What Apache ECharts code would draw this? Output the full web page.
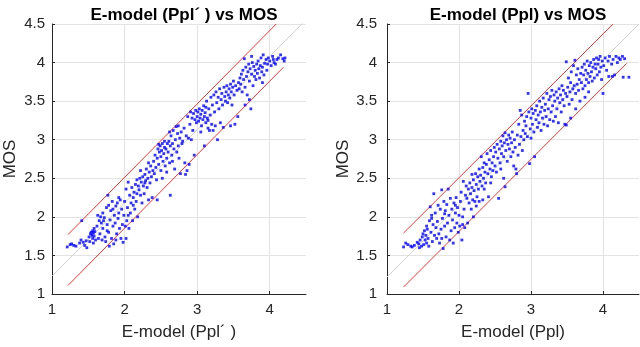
<!DOCTYPE html>
<html><head><meta charset="utf-8">
<script src="https://cdn.jsdelivr.net/npm/echarts@6/dist/echarts.min.js"></script>
<style>html,body{margin:0;padding:0;background:#fff}#c{width:640px;height:347px}</style>
</head><body><div id="c"></div>
<script>
var titles = ['E-model (Ppl\u00b4 ) vs MOS', 'E-model (Ppl) vs MOS'];
var xNames = ['E-model (Ppl\u00b4 )', 'E-model (Ppl)'];
var yName = 'MOS';
var xTicks = [1, 2, 3, 4];
var yTicks = [1, 1.5, 2, 2.5, 3, 3.5, 4, 4.5];

var pointsLeft = [
[1.21,1.61],[1.25,1.64],[1.27,1.65],[1.30,1.63],[1.33,1.62],[1.38,1.66],[1.40,1.70],[1.43,1.67],[1.45,1.63],[1.48,1.60],[1.41,1.95],[1.47,1.69],
[1.51,1.74],[1.53,1.78],[1.54,1.80],[1.55,1.76],[1.56,1.82],[1.56,1.72],[1.57,1.79],[1.58,1.85],[1.58,1.75],[1.59,1.81],[1.60,1.70],[1.52,1.68],[1.57,1.66],
[1.62,1.88],[1.63,2.02],[1.65,1.95],[1.66,1.78],[1.68,1.92],[1.70,1.85],[1.70,2.05],[1.72,1.99],[1.73,1.74],[1.74,1.68],[1.75,2.12],[1.76,1.90],[1.77,2.28],[1.78,1.80],[1.78,2.15],[1.79,1.62],[1.64,1.72],[1.69,1.70],[1.71,1.95],[1.67,2.00],[1.76,1.82],
[1.80,1.96],[1.81,2.08],[1.82,1.72],[1.83,2.20],[1.84,1.88],[1.85,1.65],[1.86,2.02],[1.87,1.92],[1.88,2.14],[1.89,1.78],[1.90,2.18],[1.91,1.98],[1.92,2.05],[1.93,1.85],[1.94,2.22],[1.95,1.72],[1.96,2.10],[1.97,1.90],[1.98,1.67],[1.99,2.02],[1.84,2.10],[1.88,1.70],[1.92,2.25],
[2.00,2.20],[2.01,1.88],[2.02,2.36],[2.03,1.95],[2.04,2.12],[2.05,2.45],[2.06,1.85],[2.07,2.28],[2.08,2.05],[2.09,2.18],[2.10,2.38],[2.11,1.95],[2.12,2.25],[2.13,2.32],[2.14,2.10],[2.15,2.42],[2.16,2.20],[2.17,2.30],[2.18,2.00],[2.19,2.40],[2.02,1.72],[2.05,2.02],[2.12,2.15],[2.17,2.48],
[2.20,2.35],[2.21,2.50],[2.22,2.28],[2.23,2.45],[2.24,2.18],[2.25,2.52],[2.26,2.40],[2.27,2.30],[2.28,2.55],[2.29,2.47],[2.30,2.62],[2.31,2.38],[2.32,2.50],[2.33,2.22],[2.34,2.58],[2.35,2.44],[2.36,2.66],[2.37,2.52],[2.38,2.25],[2.39,2.60],[2.28,2.44],[2.33,2.70],[2.22,2.60],
[2.40,2.72],[2.41,2.56],[2.42,2.80],[2.43,2.64],[2.44,2.48],[2.45,2.76],[2.46,2.88],[2.47,2.68],[2.48,2.84],[2.49,2.92],[2.50,2.78],[2.50,2.60],[2.51,2.86],[2.52,2.95],[2.53,2.72],[2.54,2.82],[2.55,2.90],[2.56,2.66],[2.57,2.88],[2.58,2.76],[2.59,2.95],[2.45,2.22],[2.52,2.50],[2.58,2.58],[2.47,2.94],[2.55,2.98],
[2.60,2.84],[2.61,2.98],[2.62,2.70],[2.63,2.92],[2.64,3.05],[2.65,2.80],[2.66,2.95],[2.67,3.12],[2.68,2.88],[2.69,2.62],[2.70,3.00],[2.71,3.17],[2.72,2.84],[2.73,3.08],[2.74,2.92],[2.75,2.76],[2.76,3.02],[2.77,2.56],[2.78,3.10],[2.79,2.95],[2.63,2.28],[2.66,2.72],[2.74,3.18],[2.62,3.10],
[2.80,2.98],[2.82,3.15],[2.84,2.55],[2.85,3.05],[2.86,2.60],[2.87,3.30],[2.88,3.02],[2.89,2.68],[2.90,3.20],[2.91,3.36],[2.92,3.00],[2.93,3.28],[2.94,3.12],[2.95,3.34],[2.96,2.80],[2.97,3.26],[2.98,3.38],[2.99,3.22],[2.83,2.70],
[3.00,3.30],[3.01,3.36],[3.02,3.24],[3.03,3.40],[3.04,3.28],[3.05,3.33],[3.06,3.18],[3.07,3.38],[3.08,3.26],[3.09,3.44],[3.10,3.30],[3.11,3.35],[3.12,3.22],[3.13,3.50],[3.14,3.28],[3.15,3.15],[3.16,3.40],[3.17,3.12],[3.18,3.32],[3.19,3.55],[3.10,2.92],[3.05,3.10],[3.15,3.25],[3.12,3.42],
[3.20,3.20],[3.21,3.45],[3.22,3.12],[3.23,3.58],[3.24,3.36],[3.25,3.18],[3.26,3.62],[3.27,3.48],[3.28,3.00],[3.29,3.55],[3.30,3.40],[3.31,3.66],[3.32,3.22],[3.33,3.52],[3.34,3.60],[3.35,3.45],[3.36,3.16],[3.37,3.68],[3.38,3.56],[3.39,3.50],
[3.40,3.62],[3.41,3.70],[3.42,3.48],[3.43,3.58],[3.44,3.66],[3.45,3.54],[3.46,3.72],[3.47,3.62],[3.48,3.45],[3.49,3.68],[3.50,3.76],[3.51,3.58],[3.52,3.20],[3.53,3.70],[3.55,3.64],[3.56,3.30],[3.57,3.74],[3.58,3.66],[3.59,3.80],[3.46,3.18],
[3.60,3.72],[3.61,3.85],[3.62,3.62],[3.63,3.90],[3.64,3.78],[3.65,4.05],[3.66,3.68],[3.67,3.94],[3.68,3.82],[3.69,3.58],[3.70,3.88],[3.71,3.98],[3.72,3.76],[3.73,3.92],[3.74,3.40],[3.75,3.85],[3.76,4.00],[3.77,3.70],[3.78,3.95],[3.79,3.82],[3.72,3.52],[3.66,3.45],[3.75,4.08],
[3.80,3.90],[3.81,3.78],[3.82,3.98],[3.83,3.86],[3.84,4.02],[3.85,3.92],[3.86,3.80],[3.87,3.96],[3.88,4.06],[3.89,3.88],[3.90,3.94],[3.91,4.10],[3.92,3.84],[3.93,3.99],[3.95,4.04],[3.96,3.90],[3.97,3.98],[3.98,4.06],[3.90,3.74],
[4.00,4.02],[4.02,3.96],[4.04,4.08],[4.06,4.00],[4.08,3.98],[4.10,4.04],[4.12,4.06],[4.15,4.10],[4.18,4.05],[4.20,4.02],[4.21,4.06],[4.05,4.04]
];

var pointsRight = [
[1.23,1.61],[1.26,1.66],[1.29,1.64],[1.33,1.62],[1.35,1.61],[1.38,1.63],[1.42,1.67],[1.44,1.65],[1.46,1.70],[1.48,1.62],[1.45,1.60],[1.49,1.74],
[1.50,1.78],[1.51,1.64],[1.52,1.82],[1.53,1.70],[1.54,1.76],[1.55,1.66],[1.56,1.84],[1.57,1.72],[1.58,1.62],[1.59,1.95],[1.60,2.13],[1.61,1.80],[1.62,1.98],[1.63,1.68],[1.64,1.90],[1.65,2.30],[1.66,1.76],[1.67,2.05],[1.68,1.86],[1.69,1.72],[1.55,1.88],[1.62,2.02],
[1.70,1.94],[1.71,2.15],[1.72,1.78],[1.73,1.66],[1.74,2.10],[1.75,1.84],[1.76,2.35],[1.77,1.98],[1.78,1.59],[1.79,2.20],[1.80,1.88],[1.81,2.08],[1.82,1.74],[1.83,2.16],[1.84,1.92],[1.85,2.36],[1.86,2.02],[1.87,1.70],[1.88,2.24],[1.89,1.82],[1.76,1.72],[1.80,2.04],
[1.90,2.10],[1.91,1.96],[1.92,1.66],[1.93,2.18],[1.94,1.86],[1.95,2.05],[1.96,2.25],[1.97,1.92],[1.98,2.12],[1.99,1.80],[2.00,2.02],[2.01,1.88],[2.02,2.20],[2.03,2.32],[2.04,1.70],[2.05,1.90],[2.06,2.46],[2.07,2.10],[2.08,1.86],[2.09,2.28],[2.10,2.40],[1.95,2.15],[2.05,2.00],
[2.11,2.24],[2.12,1.92],[2.13,2.36],[2.14,2.18],[2.15,2.44],[2.16,2.30],[2.17,2.10],[2.18,2.38],[2.19,2.22],[2.20,2.48],[2.21,2.34],[2.22,2.20],[2.23,2.56],[2.24,2.42],[2.25,2.26],[2.26,2.52],[2.27,2.36],[2.28,2.62],[2.29,2.46],[2.20,2.00],[2.18,2.55],[2.24,2.14],[2.28,2.20],
[2.30,2.54],[2.31,2.78],[2.32,2.40],[2.33,2.64],[2.34,2.50],[2.35,2.70],[2.36,2.58],[2.37,2.44],[2.38,2.68],[2.39,2.82],[2.40,2.56],[2.41,2.26],[2.42,2.74],[2.43,2.62],[2.44,2.86],[2.45,2.52],[2.46,2.70],[2.47,2.60],[2.48,2.78],[2.49,2.90],[2.35,2.36],[2.44,2.44],[2.33,2.22],
[2.50,2.66],[2.51,2.84],[2.52,2.58],[2.53,2.94],[2.54,2.76],[2.55,2.24],[2.56,2.88],[2.57,2.70],[2.58,2.98],[2.59,2.82],[2.60,2.92],[2.61,3.05],[2.62,2.78],[2.63,2.96],[2.64,3.09],[2.64,2.39],[2.65,2.86],[2.66,3.00],[2.67,2.72],[2.68,2.94],[2.69,3.06],[2.58,2.62],[2.62,2.50],
[2.70,2.88],[2.71,3.02],[2.72,2.78],[2.73,2.96],[2.74,3.10],[2.75,2.84],[2.76,2.66],[2.77,3.00],[2.78,2.90],[2.80,2.56],[2.81,3.06],[2.82,2.80],[2.83,3.20],[2.84,2.94],[2.85,3.38],[2.86,3.04],[2.87,3.32],[2.88,2.86],[2.89,3.12],[2.79,2.62],
[2.90,3.00],[2.91,3.24],[2.92,3.08],[2.93,3.18],[2.94,3.30],[2.95,3.04],[2.96,3.60],[2.97,3.36],[2.98,2.69],[2.99,3.14],[3.00,3.28],[3.01,3.40],[3.02,3.20],[3.03,3.34],[3.04,3.10],[3.05,2.78],[3.06,3.38],[3.07,3.26],[3.08,3.44],[3.09,3.16],[3.00,3.02],
[3.10,3.32],[3.11,3.22],[3.12,3.50],[3.13,3.36],[3.14,3.12],[3.15,3.42],[3.16,3.28],[3.17,3.54],[3.18,3.20],[3.19,3.38],[3.20,3.46],[3.21,3.30],[3.22,3.60],[3.23,3.18],[3.24,3.40],[3.25,3.52],[3.26,3.26],[3.27,3.56],[3.28,3.36],[3.29,3.64],
[3.30,3.44],[3.31,3.24],[3.32,3.58],[3.33,3.50],[3.34,3.30],[3.35,3.62],[3.36,3.40],[3.37,3.54],[3.38,3.22],[3.39,3.66],[3.40,3.48],[3.41,3.58],[3.42,3.36],[3.43,3.70],[3.44,3.52],[3.45,3.64],[3.46,3.44],[3.47,3.20],[3.48,3.60],[3.49,4.01],[3.49,3.19],
[3.50,3.56],[3.51,3.68],[3.52,3.80],[3.53,3.46],[3.54,3.62],[3.55,3.74],[3.56,3.88],[3.57,3.52],[3.58,3.66],[3.59,3.96],[3.60,3.70],[3.61,4.03],[3.62,3.60],[3.63,3.84],[3.64,3.72],[3.65,3.92],[3.66,3.64],[3.67,3.78],[3.68,3.50],[3.69,3.86],[3.55,3.28],[3.62,3.40],
[3.70,3.74],[3.71,3.94],[3.72,3.66],[3.73,3.84],[3.74,3.98],[3.75,3.70],[3.76,3.90],[3.77,3.78],[3.78,4.02],[3.79,3.86],[3.80,3.74],[3.81,3.96],[3.82,3.82],[3.83,4.00],[3.84,3.88],[3.85,3.76],[3.86,3.94],[3.87,4.04],[3.88,3.80],[3.89,3.98],[3.75,3.55],[3.80,3.62],
[3.90,3.92],[3.91,4.06],[3.92,3.84],[3.93,3.98],[3.94,4.04],[3.95,3.88],[3.96,4.08],[3.97,3.94],[3.98,3.78],[3.99,4.02],[4.00,3.60],[4.01,3.96],[4.03,4.06],[4.05,3.90],[4.07,4.02],[4.09,4.08],[4.08,3.82],
[4.12,3.98],[4.14,4.04],[4.16,3.84],[4.18,4.08],[4.20,4.00],[4.22,4.06],[4.24,4.04],[4.27,4.08],[4.28,3.81],[4.30,4.05],[4.36,3.81],[4.13,3.82]
];

// reference lines (data coordinates)
var diagLeft = [[1, 1.23], [4.5, 4.555]];
var upperLeft = [[1.22, 1.77], [4.09, 4.5]];
var lowerLeft = [[1.22, 1.11], [4.19, 3.94]];
var diagRight = [[1, 1.22], [4.5, 4.50]];
var upperRight = [[1.23, 1.79], [4.14, 4.5]];
var lowerRight = [[1.23, 1.09], [4.33, 3.99]];

var AX = '#262626';
var GRIDC = '#e3e3e3';
var FONT = 'Liberation Sans, Arial, Helvetica, sans-serif';

function xAxis(i, name) {
  return {
    type: 'value', gridIndex: i, min: xTicks[0], max: 4.5, interval: 1,
    name: name, nameLocation: 'middle', nameGap: 30,
    nameTextStyle: {color: AX, fontSize: 17, fontFamily: FONT},
    axisLine: {show: true, lineStyle: {color: AX, width: 1}},
    axisTick: {show: true, inside: true, length: 3, lineStyle: {color: AX}},
    axisLabel: {color: AX, fontSize: 15, fontFamily: FONT, margin: 8, showMaxLabel: false,
      formatter: function (v) { return xTicks.indexOf(v) >= 0 ? String(v) : ''; }},
    splitLine: {show: true, lineStyle: {color: ['rgba(0,0,0,0)', GRIDC, GRIDC, GRIDC, 'rgba(0,0,0,0)'], width: 1}}
  };
}
function yAxis(i, margin) {
  return {
    type: 'value', gridIndex: i, min: yTicks[0], max: yTicks[yTicks.length - 1], interval: 0.5,
    name: yName, nameLocation: 'middle', nameGap: 33, nameRotate: 90,
    nameTextStyle: {color: AX, fontSize: 17, fontFamily: FONT},
    axisLine: {show: true, lineStyle: {color: AX, width: 1}},
    axisTick: {show: true, inside: true, length: 3, lineStyle: {color: AX}},
    axisLabel: {color: AX, fontSize: 15, fontFamily: FONT, margin: margin},
    splitLine: {show: true, lineStyle: {color: GRIDC, width: 1}}
  };
}
function lineSeries(i, data, color) {
  return {type: 'line', xAxisIndex: i, yAxisIndex: i, data: data, symbol: 'none', silent: true,
    lineStyle: {color: color, width: 1}, clip: true, animation: false, z: 3};
}
function scatter(i, data) {
  return {type: 'scatter', xAxisIndex: i, yAxisIndex: i, data: data, symbol: 'rect', symbolSize: 2.8,
    itemStyle: {color: '#0000ff'}, animation: false, z: 4};
}

var chart = echarts.init(document.getElementById('c'), null, {renderer: 'canvas'});
chart.setOption({
  animation: false,
  backgroundColor: '#fff',
  title: [
    {text: titles[0], left: 179, top: 2, textAlign: 'center', textStyle: {color: '#000', fontSize: 17, fontWeight: 'bold', fontFamily: FONT}},
    {text: titles[1], left: 513, top: 2, textAlign: 'center', textStyle: {color: '#000', fontSize: 17, fontWeight: 'bold', fontFamily: FONT}}
  ],
  grid: [
    {left: 52, top: 24, width: 254, height: 270, containLabel: false},
    {left: 387, top: 24, width: 252, height: 270, containLabel: false}
  ],
  xAxis: [xAxis(0, xNames[0]), xAxis(1, xNames[1])],
  yAxis: [yAxis(0, 7), yAxis(1, 10)],
  series: [
    lineSeries(0, diagLeft, '#cfcfcf'),
    lineSeries(0, upperLeft, '#ff3030'),
    lineSeries(0, lowerLeft, '#ff3030'),
    scatter(0, pointsLeft),
    lineSeries(1, diagRight, '#cfcfcf'),
    lineSeries(1, upperRight, '#ff3030'),
    lineSeries(1, lowerRight, '#ff3030'),
    scatter(1, pointsRight)
  ]
});
</script></body></html>
